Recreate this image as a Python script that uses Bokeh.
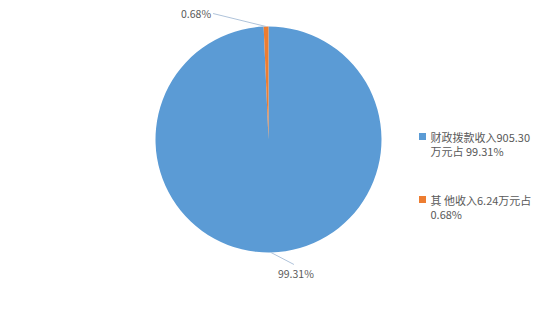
import math
from bokeh.plotting import figure
from bokeh.models import Range1d
from bokeh.core.properties import value
from bokeh.embed import file_html
from bokeh.resources import INLINE

# ---- data ----
categories = ["财政拨款收入", "其他收入"]
values = [905.30, 6.24]
percent_labels = ["99.31%", "0.68%"]
colors = ["#5B9BD5", "#ED7D31"]
legend_line1 = ["财政拨款收入905.30", "其 他收入6.24万元占"]
legend_line2 = ["万元占 99.31%", "0.68%"]

W, H = 541, 335
FONT = "Noto Sans CJK SC"
TXT = "#595959"

def Y(py):
    return H - py

p = figure(width=W, height=H, output_backend="svg", toolbar_location=None,
           x_range=Range1d(0, W), y_range=Range1d(0, H), min_border=0)
p.axis.visible = False
p.grid.visible = False
p.outline_line_color = None

cx, cy, r = 268, Y(139), 113
total = sum(values)

# clockwise from 12 o'clock
starts, ends, mids = [], [], []
a = math.pi / 2
for v in values:
    sweep = v / total * 2 * math.pi
    starts.append(a - sweep)
    ends.append(a)
    mids.append(a - sweep / 2)
    a -= sweep

p.wedge(x=cx, y=cy, radius=r, start_angle=starts, end_angle=ends,
        fill_color=colors, line_color=None)

# data labels with leader lines
label_offsets = [(23, -12), (-53, 13)]
for m, txt, (dx, dy) in zip(mids, percent_labels, label_offsets):
    x0 = cx + r * math.cos(m)
    y0 = cy + r * math.sin(m)
    x1, y1 = x0 + dx, y0 + dy
    p.line([x0, x1], [y0, y1], line_color="#AFC3DA", line_width=1)
    if dx > 0:
        p.text(x=[x1 - 16], y=[y1 - 2], text=[txt], text_font=value(FONT),
               text_font_size="10.5px", text_color=TXT, text_align="left",
               text_baseline="top")
    else:
        p.text(x=[x1 - 2], y=[y1], text=[txt], text_font=value(FONT),
               text_font_size="10.5px", text_color=TXT, text_align="right",
               text_baseline="middle")

# legend
leg_y = [Y(136), Y(199)]
p.scatter(x=[422] * 2, y=leg_y, marker="square", size=7, fill_color=colors,
          line_color=None)
p.text(x=[430] * 2, y=leg_y, text=legend_line1,
       text_font=value(FONT), text_font_size="11px", text_color=TXT,
       text_align="left", text_baseline="middle")
p.text(x=[430] * 2, y=[yy - 14.5 for yy in leg_y], text=legend_line2,
       text_font=value(FONT), text_font_size="11px", text_color=TXT,
       text_align="left", text_baseline="middle")

open("out.html", "w").write(file_html(p, INLINE))
